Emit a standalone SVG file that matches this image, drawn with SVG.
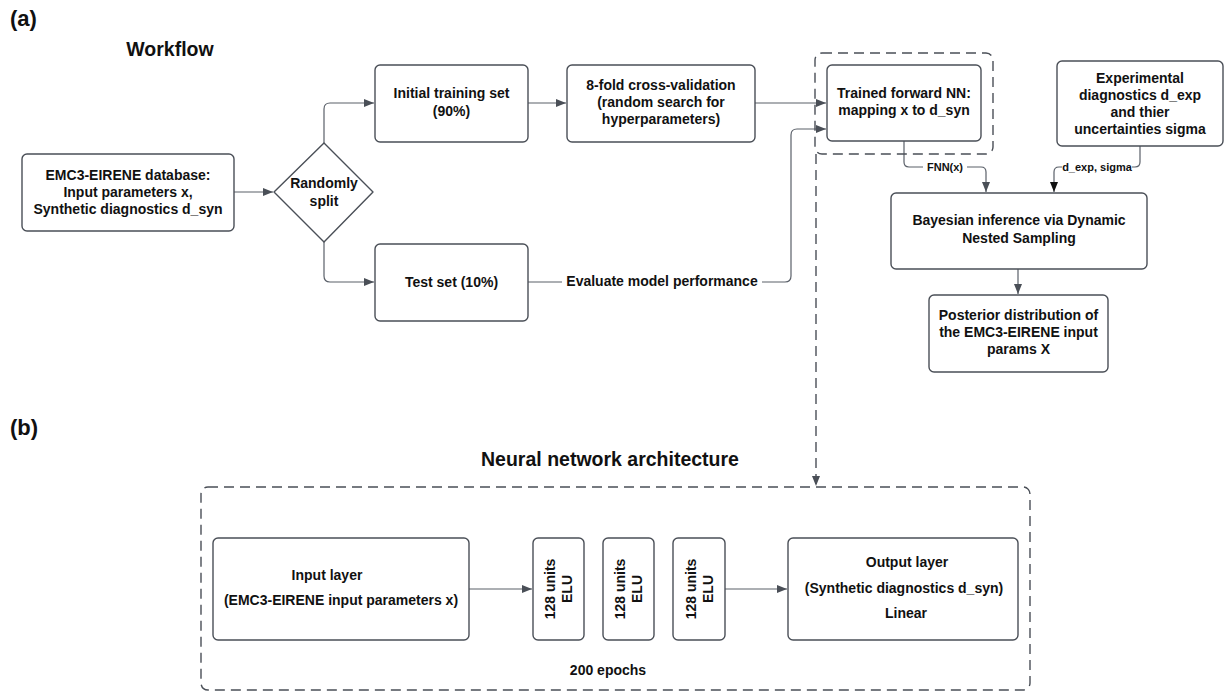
<svg xmlns="http://www.w3.org/2000/svg" width="1228" height="692" viewBox="0 0 1228 692">
<defs>
<style>
.box{fill:#fff;stroke:#4a4f57;stroke-width:1.4}
.dash{fill:none;stroke:#4a4f57;stroke-width:1.4;stroke-dasharray:10 6}
.con{fill:none;stroke:#5a6069;stroke-width:1.2}
.t{font-family:"Liberation Sans",Arial,sans-serif;font-weight:bold;font-size:14px;fill:#111;text-anchor:middle}
.s{font-size:11px}
.h{font-size:19.5px;text-anchor:middle}
.lab{font-family:"Liberation Sans",Arial,sans-serif;font-weight:bold;font-size:22px;fill:#111}
</style>
<marker id="ar" viewBox="0 0 10 8" refX="10" refY="4" markerWidth="10" markerHeight="8" markerUnits="userSpaceOnUse" orient="auto">
<path d="M0,0 L10,4 L0,8 z" fill="#4a4f57"/>
</marker>
<marker id="arb" viewBox="0 0 10 8" refX="10" refY="4" markerWidth="10" markerHeight="8" markerUnits="userSpaceOnUse" orient="auto">
<path d="M0,0 L10,4 L0,8 z" fill="#111"/>
</marker>
</defs>
<rect width="1228" height="692" fill="#fff"/>

<text class="lab" x="10" y="26">(a)</text>
<text class="lab" x="10" y="435">(b)</text>
<text class="t h" x="170" y="56">Workflow</text>
<text class="t h" x="610" y="466">Neural network architecture</text>

<g id="connectors">
<path class="con" d="M234 192 H273" marker-end="url(#ar)"/>
<path class="con" d="M324 143 V109 Q324 103 330 103 H374" marker-end="url(#ar)"/>
<path class="con" d="M324 242 V276 Q324 282 330 282 H374" marker-end="url(#ar)"/>
<path class="con" d="M528 103 H566" marker-end="url(#ar)"/>
<path class="con" d="M755 103 H826" marker-end="url(#ar)"/>
<path class="con" d="M528 282 H785 Q791 282 791 276 V135 Q791 129 797 129 H826" marker-end="url(#ar)"/>
<rect x="562" y="272" width="200" height="18" fill="#fff"/>
<text class="t" x="662" y="286">Evaluate model performance</text>
<path class="con" d="M904 141 V162 Q904 167 909 167 H981 Q986 167 986 172 V192" marker-end="url(#ar)"/>
<rect x="923" y="160" width="44" height="14" fill="#fff"/>
<text class="t s" x="945" y="171">FNN(x)</text>
<path class="con" d="M1140 146 V162 Q1140 167 1135 167 H1059 Q1054 167 1054 172 V192" marker-end="url(#arb)"/>
<rect x="1062" y="160" width="70" height="14" fill="#fff"/>
<text class="t s" x="1097" y="171">d_exp, sigma</text>
<path class="con" d="M1018 269 V294" marker-end="url(#ar)"/>
<path class="dash" d="M816 154 V486" marker-end="url(#ar)"/>
<path class="con" d="M469 589 H532" marker-end="url(#ar)"/>
<path class="con" d="M725 589 H787" marker-end="url(#ar)"/>
</g>

<g id="db">
<rect class="box" x="22" y="154" width="212" height="77" rx="5"/>
<text class="t" x="128" y="180">EMC3-EIRENE database:</text>
<text class="t" x="128" y="197">Input parameters x,</text>
<text class="t" x="128" y="214">Synthetic diagnostics d_syn</text>
</g>
<g id="split">
<polygon class="box" stroke-linejoin="round" points="324,143 373,192 324,242 274,192"/>
<text class="t" x="324" y="188">Randomly</text>
<text class="t" x="324" y="206">split</text>
</g>
<g id="train">
<rect class="box" x="375" y="65" width="153" height="77" rx="5"/>
<text class="t" x="451.5" y="98">Initial training set</text>
<text class="t" x="451.5" y="116">(90%)</text>
</g>
<g id="cv">
<rect class="box" x="567" y="65" width="188" height="77" rx="5"/>
<text class="t" x="661" y="90">8-fold cross-validation</text>
<text class="t" x="661" y="107">(random search for</text>
<text class="t" x="661" y="124">hyperparameters)</text>
</g>
<g id="test">
<rect class="box" x="375" y="244" width="153" height="77" rx="5"/>
<text class="t" x="451.5" y="287">Test set (10%)</text>
</g>
<g id="fnn">
<rect class="dash" x="815" y="53" width="178" height="101" rx="7"/>
<rect class="box" x="827" y="65" width="154" height="76" rx="5"/>
<text class="t" x="904" y="98">Trained forward NN:</text>
<text class="t" x="904" y="115">mapping x to d_syn</text>
</g>
<g id="exp">
<rect class="box" x="1057" y="61" width="166" height="85" rx="5"/>
<text class="t" x="1140" y="83">Experimental</text>
<text class="t" x="1140" y="100">diagnostics d_exp</text>
<text class="t" x="1140" y="117">and thier</text>
<text class="t" x="1140" y="134">uncertainties sigma</text>
</g>
<g id="bayes">
<rect class="box" x="891" y="193" width="256" height="76" rx="5"/>
<text class="t" x="1019" y="225">Bayesian inference via Dynamic</text>
<text class="t" x="1019" y="243">Nested Sampling</text>
</g>
<g id="posterior">
<rect class="box" x="929" y="295" width="179" height="77" rx="5"/>
<text class="t" x="1018.5" y="320">Posterior distribution of</text>
<text class="t" x="1018.5" y="337">the EMC3-EIRENE input</text>
<text class="t" x="1018.5" y="354">params X</text>
</g>

<g id="nn">
<rect class="dash" x="201" y="487" width="829" height="203" rx="7"/>
</g>
<g id="input">
<rect class="box" x="213" y="538" width="256" height="102" rx="5"/>
<text class="t" x="327" y="580">Input layer</text>
<text class="t" x="341" y="605">(EMC3-EIRENE input parameters x)</text>
</g>
<g id="h1">
<rect class="box" x="533" y="538" width="51" height="102" rx="5"/>
<g transform="translate(558.5,589) rotate(-90)"><text class="t" x="0" y="-3.5">128 units</text><text class="t" x="0" y="13.5">ELU</text></g>
</g>
<g id="h2">
<rect class="box" x="603" y="538" width="51" height="102" rx="5"/>
<g transform="translate(628.5,589) rotate(-90)"><text class="t" x="0" y="-3.5">128 units</text><text class="t" x="0" y="13.5">ELU</text></g>
</g>
<g id="h3">
<rect class="box" x="673" y="538" width="52" height="102" rx="5"/>
<g transform="translate(699,589) rotate(-90)"><text class="t" x="0" y="-3.5">128 units</text><text class="t" x="0" y="13.5">ELU</text></g>
</g>
<g id="output">
<rect class="box" x="788" y="538" width="230" height="102" rx="5"/>
<text class="t" x="907" y="567">Output layer</text>
<text class="t" x="904" y="593">(Synthetic diagnostics d_syn)</text>
<text class="t" x="906" y="618">Linear</text>
</g>
<text class="t" x="608" y="675">200 epochs</text>
</svg>
